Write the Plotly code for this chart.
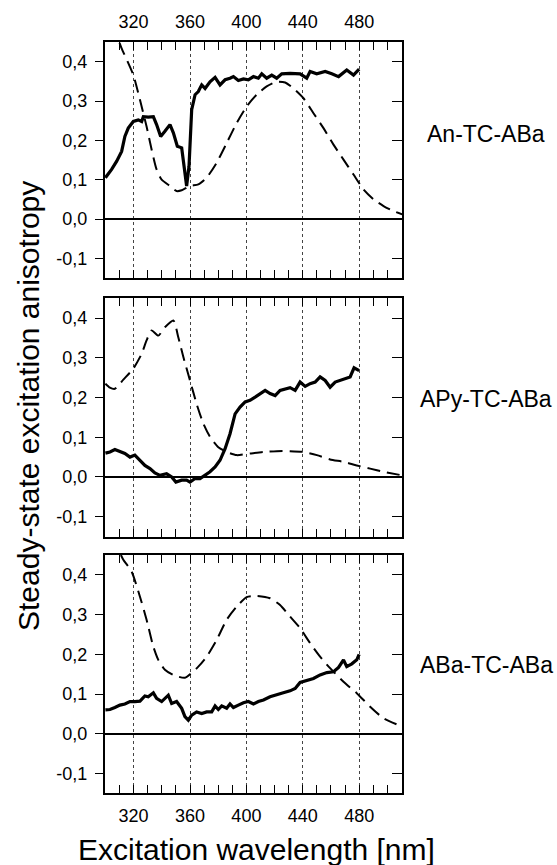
import plotly.graph_objects as go

# ---------------- data ----------------
panel_names = ["An-TC-ABa", "APy-TC-ABa", "ABa-TC-ABa"]

an_solid_wl = [300, 304.4, 308, 311.5, 313.8, 316.2, 319.8, 323.3, 325.7, 326.9,
               330.4, 334, 336.3, 339.2, 342.2, 345.8, 348.2, 351, 354.1, 356.4,
               357.6, 359.3, 361.2, 363.6, 365.9, 368.3, 370.7, 374.2, 377.8, 381.3,
               384.9, 388.4, 390.8, 394.3, 397.9, 401.4, 405, 408.5, 410.9, 414.4,
               418, 421.5, 425.1, 431, 438.1, 442.8, 445.2, 449.9, 455.9, 460.6,
               465.4, 471.2, 476, 480]
an_solid = [0.105, 0.126, 0.147, 0.172, 0.21, 0.231, 0.248, 0.252, 0.248, 0.26,
            0.259, 0.26, 0.24, 0.21, 0.223, 0.24, 0.219, 0.185, 0.181, 0.117,
            0.084, 0.134, 0.278, 0.316, 0.324, 0.341, 0.332, 0.349, 0.36, 0.341,
            0.354, 0.358, 0.362, 0.352, 0.356, 0.354, 0.362, 0.358, 0.369, 0.358,
            0.366, 0.358, 0.369, 0.37, 0.369, 0.358, 0.375, 0.369, 0.375, 0.369,
            0.362, 0.379, 0.366, 0.381]
an_dash_wl = [310, 311.5, 319.8, 324.5, 329.2, 332.8, 336.3, 339.9, 345.8, 350.5,
              354.1, 360, 365.9, 371.8, 378.9, 386, 393.1, 400.2, 407.3, 414.4,
              421.5, 427.5, 433.4, 440.5, 447.6, 454.7, 461.8, 468.9, 476, 483.1,
              490.2, 497.3, 504.4, 510.5]
an_dash = [0.448, 0.434, 0.366, 0.303, 0.235, 0.176, 0.126, 0.1, 0.084, 0.071,
           0.073, 0.084, 0.088, 0.105, 0.143, 0.193, 0.244, 0.286, 0.316, 0.337,
           0.349, 0.347, 0.332, 0.307, 0.269, 0.231, 0.189, 0.151, 0.113, 0.075,
           0.05, 0.033, 0.02, 0.012]

apy_solid_wl = [300, 303.2, 306.7, 310.3, 313.8, 317.4, 320.9, 324.5, 328, 331.6,
                335.1, 338.7, 343.4, 347, 350, 354.1, 357.6, 360, 363.6, 367.1,
                370.7, 374.2, 377.8, 381.3, 384.9, 388.4, 392, 395.5, 399.1, 402.6,
                406.2, 409.7, 413.3, 416.8, 420.4, 423.9, 427.5, 431, 434.6, 438.1,
                441.7, 445.2, 448.8, 452.3, 455.9, 459.4, 463, 466.5, 470.1, 473.6,
                476.4, 480]
apy_solid = [0.06, 0.063, 0.069, 0.063, 0.059, 0.05, 0.055, 0.042, 0.029, 0.021,
             0.01, 0.004, 0.008, 0.0, -0.013, -0.008, -0.008, -0.013, -0.004, -0.004,
             0.004, 0.013, 0.025, 0.042, 0.071, 0.109, 0.159, 0.176, 0.189, 0.193,
             0.201, 0.21, 0.218, 0.21, 0.205, 0.218, 0.222, 0.225, 0.218, 0.239,
             0.228, 0.235, 0.239, 0.252, 0.243, 0.226, 0.239, 0.243, 0.247, 0.252,
             0.275, 0.268]
apy_dash_wl = [300, 303.2, 306.7, 312.7, 319.8, 325.7, 329.2, 332.8, 337.5, 342.2,
               348.2, 351.7, 355.3, 360, 364.7, 369.5, 374.2, 380.1, 386, 393.1,
               402.6, 412.1, 421.5, 431, 440.5, 450, 459.4, 468.9, 478.3, 487.8,
               497.3, 510.5]
apy_dash = [0.235, 0.225, 0.222, 0.245, 0.273, 0.31, 0.344, 0.369, 0.356, 0.377,
            0.394, 0.352, 0.302, 0.243, 0.184, 0.134, 0.101, 0.075, 0.063, 0.055,
            0.059, 0.063, 0.065, 0.065, 0.063, 0.055, 0.044, 0.038, 0.029, 0.021,
            0.013, 0.004]

aba_solid_wl = [300, 303.2, 306.7, 310.3, 313.8, 317.4, 320.9, 324.5, 328, 330.4,
                334, 336.3, 339.9, 344.6, 347, 350.5, 354.1, 356.4, 358.8, 361.2,
                364.7, 368.3, 371.8, 375.4, 377.8, 380.1, 382.5, 386, 388.4, 390.8,
                394.3, 397.9, 401.4, 405, 408.5, 412.1, 416.8, 421.5, 426.2, 431,
                434.6, 438.1, 442.8, 447.6, 452.3, 457.1, 461.8, 465.4, 468.9, 471.2,
                474.8, 478.3, 480]
aba_solid = [0.06, 0.061, 0.066, 0.072, 0.075, 0.081, 0.081, 0.082, 0.095, 0.093,
             0.103, 0.089, 0.081, 0.097, 0.076, 0.081, 0.064, 0.043, 0.034, 0.047,
             0.055, 0.051, 0.055, 0.055, 0.07, 0.061, 0.07, 0.064, 0.075, 0.066,
             0.072, 0.078, 0.081, 0.075, 0.081, 0.085, 0.093, 0.097, 0.103, 0.108,
             0.114, 0.129, 0.133, 0.139, 0.148, 0.154, 0.156, 0.167, 0.186, 0.169,
             0.176, 0.186, 0.2]
aba_dash_wl = [311, 312.7, 318.6, 324.5, 329.2, 334, 337.5, 342.2, 348.2, 356.4,
               365.9, 371.8, 378.9, 386, 393.1, 400.2, 407.3, 416.8, 423.9, 431,
               438.1, 445.2, 452.3, 459.4, 468.9, 478.3, 487.8, 497.3, 510.5]
aba_dash = [0.45, 0.438, 0.408, 0.345, 0.287, 0.219, 0.186, 0.161, 0.148, 0.141,
            0.169, 0.194, 0.236, 0.287, 0.32, 0.344, 0.347, 0.341, 0.324, 0.295,
            0.266, 0.228, 0.194, 0.165, 0.131, 0.102, 0.068, 0.039, 0.018]

x_tick_vals = [320, 360, 400, 440, 480]
x_tick_text = ["320", "360", "400", "440", "480"]
y_tick_vals = [-0.1, 0.0, 0.1, 0.2, 0.3, 0.4]
y_tick_text = ["-0,1", "0,0", "0,1", "0,2", "0,3", "0,4"]

x_title = "Excitation wavelength [nm]"
y_title = "Steady-state excitation anisotropy"

# ---------------- figure ----------------
FONT = "Liberation Sans, Arial, Helvetica, sans-serif"
W, H = 557, 865
x_range = [299.7, 510.4]
y_range = [-0.15, 0.45]

panels = [
    (an_solid_wl, an_solid, an_dash_wl, an_dash),
    (apy_solid_wl, apy_solid, apy_dash_wl, apy_dash),
    (aba_solid_wl, aba_solid, aba_dash_wl, aba_dash),
]
# panel boxes in pixels (top, bottom)
boxes = [(42, 278), (298.3, 536.5), (555, 793.3)]
x_dom = [105 / W, 402 / W]

fig = go.Figure()
layout = dict(
    width=W, height=H, margin=dict(l=0, r=0, t=0, b=0),
    paper_bgcolor="white", plot_bgcolor="white",
    showlegend=False, font=dict(family=FONT, color="black", size=18),
)

for i, (sw, sv, dw, dv) in enumerate(panels):
    n = i + 1
    xa = "x" if n == 1 else f"x{n}"
    ya = "y" if n == 1 else f"y{n}"
    fig.add_trace(go.Scatter(x=dw, y=dv, mode="lines", xaxis=xa, yaxis=ya,
                             line=dict(color="black", width=2, dash="13px,7px",
                                       shape="spline", smoothing=0.6),
                             hoverinfo="skip"))
    fig.add_trace(go.Scatter(x=sw, y=sv, mode="lines", xaxis=xa, yaxis=ya,
                             line=dict(color="black", width=3.2),
                             hoverinfo="skip"))
    # right-side (inside) tick axis
    ra = f"y{n + 3}"
    fig.add_trace(go.Scatter(x=[None], y=[None], xaxis=xa, yaxis=ra,
                             mode="lines", hoverinfo="skip", showlegend=False))

    top, bot = boxes[i]
    dom = [1 - bot / H, 1 - top / H]
    xkey = "xaxis" if n == 1 else f"xaxis{n}"
    ykey = "yaxis" if n == 1 else f"yaxis{n}"
    layout[xkey] = dict(
        domain=x_dom, anchor=ya, range=x_range,
        side="top" if n == 1 else "bottom",
        showticklabels=(n != 2),
        tickmode="array", tickvals=x_tick_vals, ticktext=x_tick_text,
        ticks="inside", ticklen=8, tickwidth=1.3, tickcolor="black",
        minor=dict(dtick=10, tick0=300, ticks="inside", ticklen=8,
                   tickwidth=1.3, tickcolor="black", showgrid=False),
        showline=True, linecolor="black", linewidth=2, mirror="ticks",
        showgrid=True, gridcolor="#444444", gridwidth=1, griddash="dot",
        zeroline=False, tickfont=dict(size=18), ticklabelstandoff=5,
    )
    layout[ykey] = dict(
        domain=dom, anchor=xa, range=y_range,
        tickmode="array", tickvals=y_tick_vals, ticktext=y_tick_text,
        ticks="outside", ticklen=8, tickwidth=1.3, tickcolor="black",
        showline=True, linecolor="black", linewidth=2, mirror=True,
        showgrid=False, zeroline=True, zerolinecolor="black", zerolinewidth=1.6,
        tickfont=dict(size=18), ticklabelstandoff=4,
    )
    layout[f"yaxis{n + 3}"] = dict(
        overlaying=ya, anchor=xa, side="right", range=y_range,
        tickmode="array", tickvals=y_tick_vals,
        ticks="inside", ticklen=10, tickwidth=1.3, tickcolor="black",
        showticklabels=False, showline=False, showgrid=False, zeroline=False,
    )

annotations = []
label_y = [134, 399, 665]
for name, yy in zip(panel_names, label_y):
    annotations.append(dict(text=name, xref="paper", yref="paper",
                            x=486 / W, y=1 - yy / H, xanchor="center",
                            yanchor="middle", showarrow=False,
                            font=dict(size=23, family=FONT, color="black")))
annotations.append(dict(text=y_title, xref="paper", yref="paper",
                        x=28 / W, y=1 - 406 / H, textangle=-90,
                        xanchor="center", yanchor="middle", showarrow=False,
                        font=dict(size=30, family=FONT, color="black")))
annotations.append(dict(text=x_title, xref="paper", yref="paper",
                        x=256 / W, y=1 - 849 / H, xanchor="center",
                        yanchor="middle", showarrow=False,
                        font=dict(size=30, family=FONT, color="black")))
layout["annotations"] = annotations

fig.update_layout(**layout)
fig.write_html("out.html")
